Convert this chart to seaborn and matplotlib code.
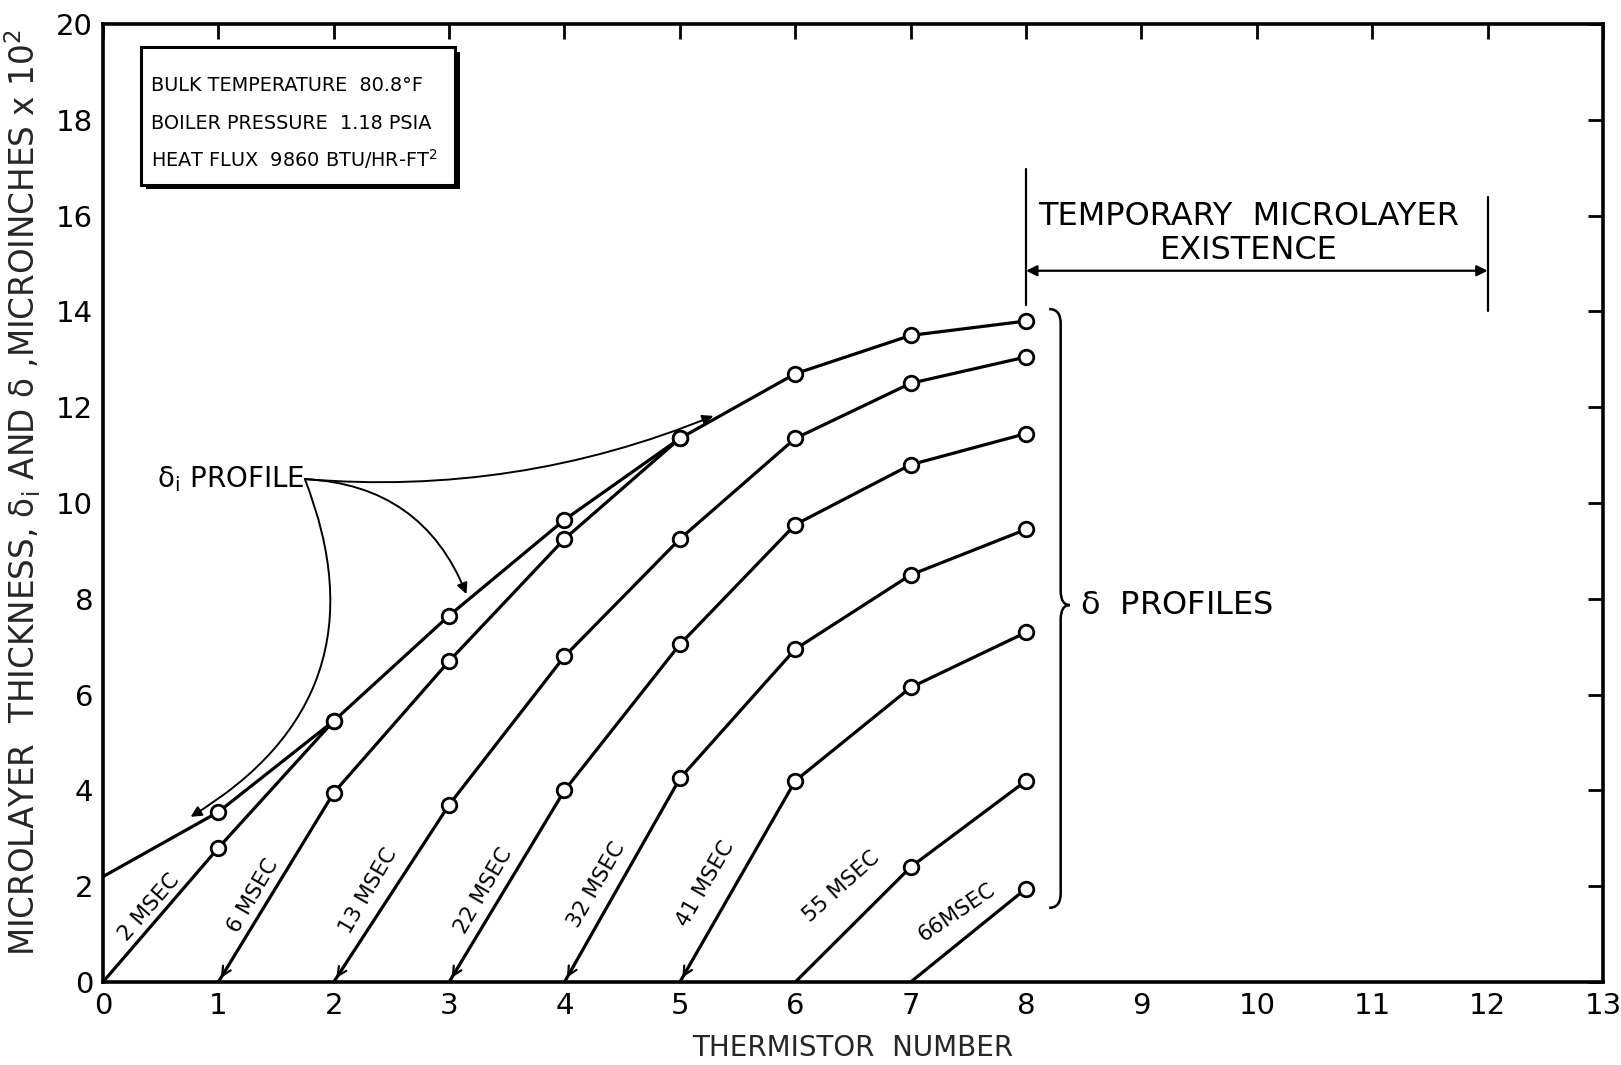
import numpy as np
import pandas as pd
import matplotlib
matplotlib.use("Agg")
import matplotlib.pyplot as plt
import seaborn as sns
from matplotlib.path import Path
from matplotlib.patches import PathPatch, Rectangle
import matplotlib.patheffects as pe

# ---------------- data ----------------
di_x = [0, 1, 2, 3, 4, 5, 6, 7, 8]
di_y = [2.2, 3.55, 5.45, 7.65, 9.65, 11.35, 12.7, 13.5, 13.8]

p2_x = [0, 1, 2]
p2_y = [0.0, 2.8, 5.45]
p6_x = [1, 2, 3, 4, 5]
p6_y = [0.0, 3.95, 6.7, 9.25, 11.35]
p13_x = [2, 3, 4, 5, 6, 7, 8]
p13_y = [0.0, 3.7, 6.8, 9.25, 11.35, 12.5, 13.05]
p22_x = [3, 4, 5, 6, 7, 8]
p22_y = [0.0, 4.0, 7.05, 9.55, 10.8, 11.45]
p32_x = [4, 5, 6, 7, 8]
p32_y = [0.0, 4.25, 6.95, 8.5, 9.45]
p41_x = [5, 6, 7, 8]
p41_y = [0.0, 4.2, 6.15, 7.3]
p55_x = [6, 7, 8]
p55_y = [0.0, 2.4, 4.2]
p66_x = [7, 8]
p66_y = [0.0, 1.95]

profile_names = ["2 MSEC", "6 MSEC", "13 MSEC", "22 MSEC", "32 MSEC",
                 "41 MSEC", "55 MSEC", "66MSEC"]
profiles_x = [p2_x, p6_x, p13_x, p22_x, p32_x, p41_x, p55_x, p66_x]
profiles_y = [p2_y, p6_y, p13_y, p22_y, p32_y, p41_y, p55_y, p66_y]

x_ticks = list(range(0, 14))
y_ticks = list(range(0, 21, 2))

box_lines = ["BULK TEMPERATURE  80.8°F",
             "BOILER PRESSURE  1.18 PSIA",
             r"HEAT FLUX  9860 BTU/HR-FT$^{2}$"]

sns.set_theme(style="white")
plt.rcParams["font.family"] = ["DejaVu Sans"]
plt.rcParams["mathtext.fontset"] = "dejavusans"
plt.rcParams["text.color"] = "black"

DELTA_I = r"$\mathrm{\delta_{i}}$"
DELTA = r"$\mathrm{\delta}$"

# ---------------- long table ----------------
rows = []
for i, (xs, ys) in enumerate(zip([di_x] + profiles_x, [di_y] + profiles_y)):
    name = "delta_i" if i == 0 else profile_names[i - 1]
    for j, (xv, yv) in enumerate(zip(xs, ys)):
        marked = (yv > 0) and not (i == 0 and j == 0)
        rows.append({"profile": name, "x": xv, "y": yv, "marked": marked})
df = pd.DataFrame(rows)

fig = plt.figure(figsize=(16.21, 10.65), dpi=100)
ax = fig.add_axes([0.0635, 0.0779, 0.9254, 0.8995])
ax.set_facecolor("white")
fig.patch.set_facecolor("white")

sns.lineplot(data=df, x="x", y="y", units="profile", estimator=None,
             sort=False, color="black", lw=2.3, legend=False, ax=ax)
sns.scatterplot(data=df[df["marked"]], x="x", y="y", s=110, marker="o",
                facecolor="white", edgecolor="black", linewidth=2.0,
                zorder=5, legend=False, ax=ax)

ax.set_xlim(0, 13)
ax.set_ylim(0, 20)
ax.set_xticks(x_ticks)
ax.set_yticks(y_ticks)
ax.tick_params(direction="in", length=11, width=2, top=True, right=True,
               labelsize=21, pad=7, colors="black")
for s in ax.spines.values():
    s.set_linewidth(2.6)
    s.set_color("black")
ax.set_xlabel("THERMISTOR  NUMBER", fontsize=20)
ax.set_ylabel("MICROLAYER  THICKNESS, " + DELTA_I + " AND " + DELTA +
              " ,MICROINCHES x 10$^{2}$", fontsize=23.5)
ax.xaxis.label.set_va("center")
ax.yaxis.label.set_va("center")
ax.xaxis.set_label_coords(0.5, -0.069)
ax.yaxis.set_label_coords(-0.0535, 0.511)

# small open arrowheads at curve starts
for xs, ys in zip(profiles_x[1:6], profiles_y[1:6]):
    x0, y0, x1, y1 = xs[0], ys[0], xs[1], ys[1]
    ax.annotate("", xy=(x0 + 0.01 * (x1 - x0), y0 + 0.01 * (y1 - y0)),
                xytext=(x0 + 0.12 * (x1 - x0), y0 + 0.12 * (y1 - y0)),
                arrowprops=dict(arrowstyle="->", lw=1.6, color="black",
                                mutation_scale=16))

# curve labels
label_pos = [(0.40, 1.55, 49), (1.30, 1.80, 60), (2.30, 1.90, 60),
             (3.30, 1.90, 60), (4.28, 2.02, 60), (5.22, 2.05, 60),
             (6.40, 2.00, 42), (7.40, 1.45, 34)]
for name, (lx, ly, rot) in zip(profile_names, label_pos):
    ax.text(lx, ly, name, fontsize=15.5, rotation=rot, ha="center", va="center",
            rotation_mode="anchor")

# info box with shadow
box = Rectangle((0.33, 16.65), 2.72, 2.87, facecolor="white", edgecolor="black",
                lw=2.2, zorder=6)
box.set_path_effects([pe.SimplePatchShadow(offset=(3.5, -3.5),
                                           shadow_rgbFace="black", alpha=1.0),
                      pe.Normal()])
ax.add_patch(box)
for line, yb in zip(box_lines, [18.6, 17.8, 17.02]):
    ax.text(0.42, yb, line, fontsize=13.9, ha="left", va="baseline", zorder=7)

# delta_i profile label and arrows
ax.text(0.47, 10.5, DELTA_I + " PROFILE", fontsize=20, ha="left", va="center")
src = (1.75, 10.5)
for tgt, rad in [((0.76, 3.45), -0.42), ((3.15, 8.1), -0.32), ((5.29, 11.82), 0.12)]:
    ax.annotate("", xy=tgt, xytext=src,
                arrowprops=dict(arrowstyle="-|>", lw=1.4, color="black",
                                mutation_scale=16,
                                connectionstyle=f"arc3,rad={rad}",
                                shrinkA=0, shrinkB=0))

# temporary microlayer existence
ax.plot([8, 8], [14.13, 16.98], color="black", lw=1.6)
ax.plot([12, 12], [14.0, 16.4], color="black", lw=1.6)
ax.annotate("", xy=(8.0, 14.85), xytext=(12.0, 14.85),
            arrowprops=dict(arrowstyle="<|-|>", lw=1.6, color="black",
                            mutation_scale=16, shrinkA=0, shrinkB=0))
ax.text(9.93, 15.62, "TEMPORARY  MICROLAYER\nEXISTENCE", fontsize=23,
        ha="center", va="center", linespacing=1.12)

# curly brace for delta profiles
bx, btop, bbot, bmid = 8.30, 14.05, 1.55, 7.87
hook, tip = 0.1, 0.08
verts = [(bx - hook, btop), (bx, btop), (bx, btop - 0.3),
         (bx, bmid + 0.3),
         (bx, bmid), (bx + tip, bmid),
         (bx, bmid), (bx, bmid - 0.3),
         (bx, bbot + 0.3),
         (bx, bbot), (bx - hook, bbot)]
codes = [Path.MOVETO, Path.CURVE3, Path.CURVE3,
         Path.LINETO,
         Path.CURVE3, Path.CURVE3,
         Path.CURVE3, Path.CURVE3,
         Path.LINETO,
         Path.CURVE3, Path.CURVE3]
ax.add_patch(PathPatch(Path(verts, codes), facecolor="none", edgecolor="black",
                       lw=1.8))
ax.text(8.47, 7.87, DELTA + "  PROFILES", fontsize=23, ha="left", va="center")

fig.savefig("out.png", dpi=100, facecolor="white")
